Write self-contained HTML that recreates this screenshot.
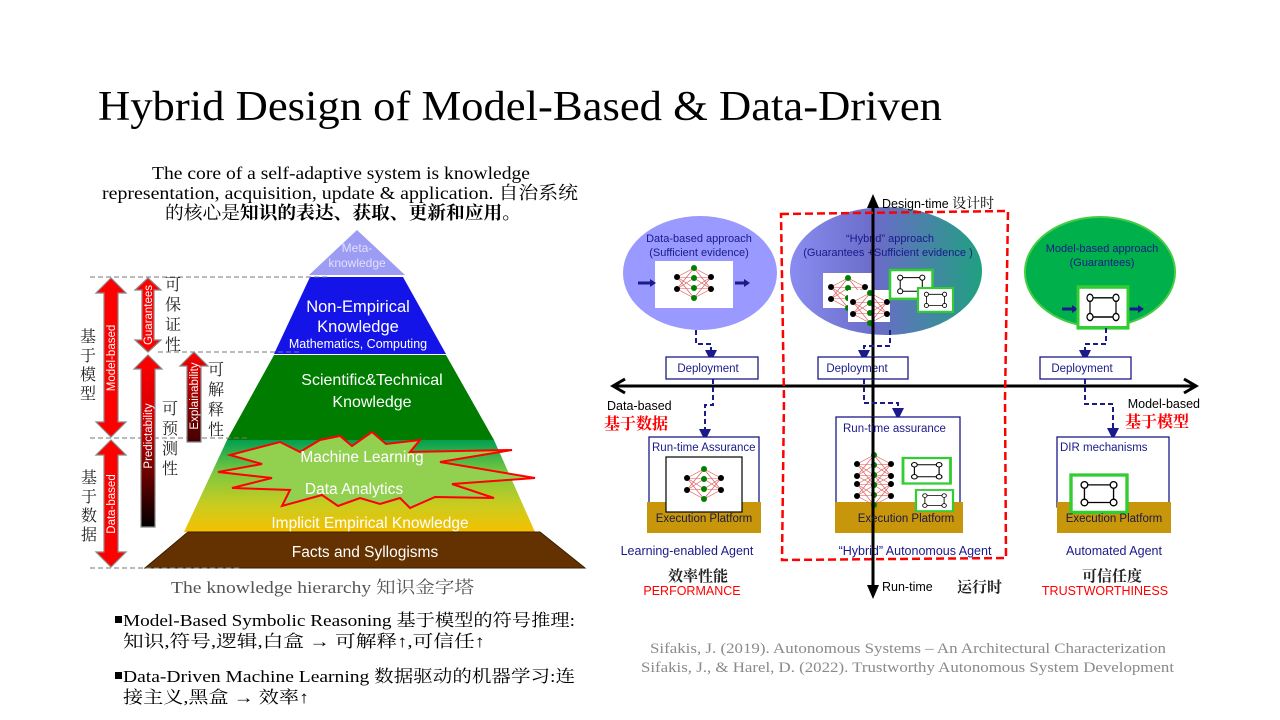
<!DOCTYPE html>
<html><head><meta charset="utf-8"><style>
html,body{margin:0;padding:0;background:#fff;}
body{width:1280px;height:720px;overflow:hidden;position:relative;}
svg{position:absolute;left:0;top:0;}
</style></head><body>
<svg width="1280" height="720" viewBox="0 0 1280 720" xmlns="http://www.w3.org/2000/svg">
<defs>
  <linearGradient id="gy" x1="0" y1="0" x2="0" y2="1">
    <stop offset="0" stop-color="#00a050"/><stop offset="0.35" stop-color="#7cc840"/><stop offset="0.7" stop-color="#c8cc20"/><stop offset="1" stop-color="#f5c000"/>
  </linearGradient>
  <linearGradient id="hyb" x1="0" y1="0" x2="1" y2="0">
    <stop offset="0" stop-color="#8a8cf0"/><stop offset="0.45" stop-color="#6a6cc8"/><stop offset="1" stop-color="#1fa080"/>
  </linearGradient>
  <linearGradient id="rb" x1="0" y1="0" x2="0" y2="1">
    <stop offset="0" stop-color="#ff0000"/><stop offset="0.4" stop-color="#d00000"/><stop offset="1" stop-color="#000"/>
  </linearGradient>
  <linearGradient id="rb2" x1="0" y1="0" x2="0" y2="1">
    <stop offset="0" stop-color="#ff0000"/><stop offset="1" stop-color="#400000"/>
  </linearGradient>
  <g id="nn">
    <g stroke="#e05050" stroke-width="0.6">
      <path d="M5 14L22 5M5 14L22 15M5 14L22 25M5 14L22 35M5 26L22 5M5 26L22 15M5 26L22 25M5 26L22 35M39 14L22 5M39 14L22 15M39 14L22 25M39 14L22 35M39 26L22 5M39 26L22 15M39 26L22 25M39 26L22 35"/>
    </g>
    <circle cx="5" cy="14" r="3" fill="#000"/><circle cx="5" cy="26" r="3" fill="#000"/>
    <circle cx="39" cy="14" r="3" fill="#000"/><circle cx="39" cy="26" r="3" fill="#000"/>
    <circle cx="22" cy="5" r="3" fill="#008000"/><circle cx="22" cy="15" r="3" fill="#008000"/><circle cx="22" cy="25" r="3" fill="#008000"/><circle cx="22" cy="35" r="3" fill="#008000"/>
  </g>
  <g id="sm">
    <rect x="0" y="0" width="50" height="34" fill="#fff" stroke="#33cc33" stroke-width="3"/>
    <g fill="none" stroke="#000" stroke-width="1.2">
      <circle cx="12" cy="9" r="3"/><circle cx="38" cy="9" r="3"/><circle cx="12" cy="25" r="3"/><circle cx="38" cy="25" r="3"/>
      <path d="M15 9H35M38 12V22M35 25H15M12 22V12"/>
    </g>
  </g>
  <marker id="ah" markerWidth="6" markerHeight="6" refX="3" refY="3" orient="auto"><path d="M0 0L6 3L0 6z" fill="#1a1a8a"/></marker>
</defs>

<!-- Title -->
<text x="98" y="120" font-family="Liberation Serif, serif" font-size="42" fill="#000" textLength="844" lengthAdjust="spacingAndGlyphs">Hybrid Design of Model-Based &amp; Data-Driven</text>

<!-- paragraph -->
<g font-family="Liberation Serif, 'Noto Serif CJK SC', serif" font-size="18" fill="#000">
  <text x="152" y="179" textLength="378" lengthAdjust="spacingAndGlyphs">The core of a self-adaptive system is knowledge</text>
  <text x="102" y="199" textLength="476" lengthAdjust="spacingAndGlyphs">representation, acquisition, update &amp; application. 自治系统</text>
  <text x="165" y="219" textLength="356" lengthAdjust="spacingAndGlyphs">的核心是<tspan font-weight="bold">知识的表达、获取、更新和应用。</tspan></text>
</g>

<!-- Pyramid -->
<polygon points="357,230 405,275 309,275" fill="#9c9cf4"/>
<text x="357" y="252" font-family="Liberation Sans, sans-serif" font-size="12" fill="#e0e0ff" text-anchor="middle">Meta-</text>
<text x="357" y="267" font-family="Liberation Sans, sans-serif" font-size="12" fill="#e0e0ff" text-anchor="middle">knowledge</text>
<polygon points="310,277 403,277 446,354 274,354" fill="#1414e8"/>
<polygon points="274,355 446,355 494,440 227,440" fill="#007c00"/>
<polygon points="227,440 494,440 535,532 184,532" fill="url(#gy)"/>
<polygon points="188,532 540,532 585,568 145,568" fill="#633200" stroke="#3a1d00" stroke-width="1"/>

<!-- starburst -->
<polygon points="280,442 300,452 320,440 340,436 352,446 372,432 386,444 420,440 410,452 512,450 440,462 535,478 452,484 494,498 435,497 410,508 400,498 380,504 360,498 338,506 322,495 282,506 290,490 232,488 272,478 218,472 262,464 230,455" fill="#92d050" stroke="#ff0000" stroke-width="2"/>

<g font-family="Liberation Sans, sans-serif" fill="#fff" text-anchor="middle">
  <text x="358" y="312" font-size="16.5">Non-Empirical</text>
  <text x="358" y="332" font-size="16.5">Knowledge</text>
  <text x="358" y="348" font-size="12.5">Mathematics, Computing</text>
  <text x="372" y="385" font-size="16">Scientific&amp;Technical</text>
  <text x="372" y="407" font-size="16">Knowledge</text>
  <text x="362" y="462" font-size="15.5">Machine Learning</text>
  <text x="354" y="494" font-size="15.5">Data Analytics</text>
  <text x="370" y="528" font-size="15.5">Implicit Empirical Knowledge</text>
  <text x="365" y="557" font-size="15.5">Facts and Syllogisms</text>
</g>

<!-- dashed guide lines -->
<g stroke="#777" stroke-width="1" stroke-dasharray="5,3">
  <line x1="90" y1="277" x2="330" y2="277"/>
  <line x1="158" y1="352" x2="300" y2="352"/>
  <line x1="90" y1="438" x2="250" y2="438"/>
  <line x1="90" y1="568" x2="240" y2="568"/>
</g>

<!-- arrows -->
<g stroke="#888" stroke-width="1.2">
  <polygon points="111,278 126,293 118,293 118,422 126,422 111,437 96,422 104,422 104,293 96,293" fill="#f00"/>
  <polygon points="111,440 126,455 118,455 118,552 126,552 111,567 96,552 104,552 104,455 96,455" fill="#f00"/>
  <polygon points="148,278 161,290 154,290 154,340 161,340 148,352 135,340 142,340 142,290 135,290" fill="#f00"/>
  <polygon points="148,355 162,369 155,369 155,527 141,527 141,369 134,369" fill="url(#rb)"/>
  <polygon points="194,352 208,366 201,366 201,442 187,442 187,366 180,366" fill="url(#rb2)"/>
</g>
<g font-family="Liberation Sans, sans-serif" font-size="11.5" fill="#fff" text-anchor="middle">
  <text transform="translate(115,358) rotate(-90)">Model-based</text>
  <text transform="translate(115,504) rotate(-90)">Data-based</text>
  <text transform="translate(152,315) rotate(-90)">Guarantees</text>
  <text transform="translate(152,436) rotate(-90)">Predictability</text>
  <text transform="translate(198,396) rotate(-90)">Explainability</text>
</g>
<g font-family="'Noto Serif CJK SC', serif" font-size="16" fill="#222" text-anchor="middle">
  <text x="88" y="342">基</text><text x="88" y="361">于</text><text x="88" y="380">模</text><text x="88" y="399">型</text>
  <text x="89" y="483">基</text><text x="89" y="502">于</text><text x="89" y="521">数</text><text x="89" y="540">据</text>
  <text x="173" y="290">可</text><text x="173" y="310">保</text><text x="173" y="330">证</text><text x="173" y="350">性</text>
  <text x="170" y="414">可</text><text x="170" y="434">预</text><text x="170" y="454">测</text><text x="170" y="474">性</text>
  <text x="216" y="375">可</text><text x="216" y="395">解</text><text x="216" y="415">释</text><text x="216" y="435">性</text>
</g>
<text x="171" y="593" font-family="Liberation Serif, 'Noto Serif CJK SC', serif" font-size="17" fill="#555" textLength="303" lengthAdjust="spacingAndGlyphs">The knowledge hierarchy 知识金字塔</text>

<!-- bullets -->
<g font-family="Liberation Serif, 'Noto Serif CJK SC', serif" font-size="17" fill="#000">
  <rect x="115" y="616" width="7" height="7" fill="#000"/>
  <text x="123" y="626" textLength="452" lengthAdjust="spacingAndGlyphs">Model-Based Symbolic Reasoning 基于模型的符号推理:</text>
  <text x="123" y="647" textLength="362" lengthAdjust="spacingAndGlyphs">知识,符号,逻辑,白盒 → 可解释↑,可信任↑</text>
  <rect x="115" y="672" width="7" height="7" fill="#000"/>
  <text x="123" y="682" textLength="452" lengthAdjust="spacingAndGlyphs">Data-Driven Machine Learning 数据驱动的机器学习:连</text>
  <text x="123" y="703" textLength="186" lengthAdjust="spacingAndGlyphs">接主义,黑盒 → 效率↑</text>
</g>

<!-- citations -->
<g font-family="Liberation Serif, serif" font-size="15" fill="#8a8a8a">
  <text x="650" y="653" textLength="516" lengthAdjust="spacingAndGlyphs">Sifakis, J. (2019). Autonomous Systems – An Architectural Characterization</text>
  <text x="641" y="672" textLength="533" lengthAdjust="spacingAndGlyphs">Sifakis, J., &amp; Harel, D. (2022). Trustworthy Autonomous System Development</text>
</g>

<!-- RIGHT DIAGRAM -->
<ellipse cx="700" cy="273" rx="77" ry="57" fill="#9999ff"/>
<ellipse cx="886" cy="271" rx="96" ry="64" fill="url(#hyb)"/>
<ellipse cx="1100" cy="272" rx="75" ry="55" fill="#00b04a" stroke="#44cc44" stroke-width="2"/>
<g font-family="Liberation Sans, sans-serif" font-size="11" fill="#1a1a8a" text-anchor="middle">
  <text x="699" y="242">Data-based approach</text>
  <text x="699" y="256">(Sufficient evidence)</text>
  <text x="890" y="242">“Hybrid” approach</text>
  <text x="888" y="256">(Guarantees +Sufficient evidence )</text>
  <text x="1102" y="252">Model-based approach</text>
  <text x="1102" y="266">(Guarantees)</text>
</g>
<rect x="655" y="261" width="78" height="47" fill="#fff"/>
<use href="#nn" x="672" y="263"/>
<path d="M638 283H652" stroke="#1a1a8a" stroke-width="3"/><polygon points="650,279 656,283 650,287" fill="#1a1a8a"/>
<path d="M735 283H746" stroke="#1a1a8a" stroke-width="3"/><polygon points="744,279 750,283 744,287" fill="#1a1a8a"/>
<rect x="823" y="273" width="50" height="35" fill="#fff"/>
<use href="#nn" x="826" y="273"/>
<rect x="848" y="290" width="42" height="32" fill="#fff"/>
<use href="#nn" x="848" y="288"/>
<g transform="translate(890,270) scale(0.85)"><use href="#sm"/></g>
<g transform="translate(918,288) scale(0.7)"><use href="#sm"/></g>
<path d="M1062 309H1074" stroke="#1a1a8a" stroke-width="3"/><polygon points="1072,305 1078,309 1072,313" fill="#1a1a8a"/>
<path d="M1128 309H1140" stroke="#1a1a8a" stroke-width="3"/><polygon points="1138,305 1144,309 1138,313" fill="#1a1a8a"/>
<g transform="translate(1078,287) scale(1.0,1.2)"><use href="#sm"/></g>

<!-- axes -->
<line x1="873" y1="200" x2="873" y2="592" stroke="#000" stroke-width="3"/>
<polygon points="873,194 867,208 879,208" fill="#000"/>
<polygon points="873,599 867,585 879,585" fill="#000"/>
<line x1="616" y1="386" x2="1193" y2="386" stroke="#000" stroke-width="3"/>
<path d="M625 379L613 386L625 393" fill="none" stroke="#000" stroke-width="3"/>
<path d="M1184 379L1196 386L1184 393" fill="none" stroke="#000" stroke-width="3"/>

<path d="M781 214L1008 211L1005 400L1006 558L782 560L784 400Z" fill="none" stroke="#ff0000" stroke-width="2.5" stroke-dasharray="8,4"/>

<g fill="none" stroke="#1a1a8a" stroke-width="2" stroke-dasharray="5,3">
  <path d="M696 330V344H711V356" marker-end="url(#ah)"/>
  <path d="M713 379V405H705V435" marker-end="url(#ah)"/>
  <path d="M890 330V346H864V356" marker-end="url(#ah)"/>
  <path d="M864 379V403H898V414" marker-end="url(#ah)"/>
  <path d="M1106 328V344H1085V356" marker-end="url(#ah)"/>
  <path d="M1085 379V404H1113V434" marker-end="url(#ah)"/>
</g>

<g fill="#fff" stroke="#1a1a8a" stroke-width="1.3">
  <rect x="666" y="357" width="92" height="22"/>
  <rect x="818" y="357" width="90" height="22"/>
  <rect x="1040" y="357" width="91" height="22"/>
</g>
<g font-family="Liberation Sans, sans-serif" font-size="11.5" fill="#1a1a8a" text-anchor="middle">
  <text x="708" y="372">Deployment</text>
  <text x="857" y="372">Deployment</text>
  <text x="1082" y="372">Deployment</text>
</g>
<line x1="873" y1="357" x2="873" y2="379" stroke="#000" stroke-width="3"/>

<g fill="#fff" stroke="#1a1a8a" stroke-width="1.3">
  <rect x="649" y="437" width="110" height="70"/>
  <rect x="836" y="417" width="124" height="90"/>
  <rect x="1057" y="437" width="112" height="70"/>
</g>
<g fill="#c8960a">
  <rect x="647" y="502" width="114" height="31"/>
  <rect x="835" y="502" width="128" height="31"/>
  <rect x="1057" y="502" width="114" height="31"/>
</g>
<line x1="873" y1="417" x2="873" y2="533" stroke="#000" stroke-width="3"/>
<rect x="666" y="457" width="76" height="55" fill="#fff" stroke="#000" stroke-width="1.2"/>
<use href="#nn" x="682" y="464"/>
<rect x="852" y="450" width="42" height="52" fill="#fff"/>
<use href="#nn" x="852" y="450"/>
<use href="#nn" x="852" y="470"/>
<line x1="873" y1="450" x2="873" y2="510" stroke="#000" stroke-width="3"/>
<g transform="translate(903,458) scale(0.95,0.75)"><use href="#sm"/></g>
<g transform="translate(916,490) scale(0.74,0.62)"><use href="#sm"/></g>
<g transform="translate(1071,475) scale(1.12,1.1)"><use href="#sm"/></g>

<g font-family="Liberation Sans, sans-serif" font-size="11.5" fill="#1a1a8a">
  <text x="652" y="451">Run-time Assurance</text>
  <text x="843" y="432">Run-time assurance</text>
  <text x="1060" y="451">DIR mechanisms</text>
</g>
<g font-family="Liberation Sans, sans-serif" font-size="11.5" fill="#1a1a40" text-anchor="middle">
  <text x="704" y="522">Execution Platform</text>
  <text x="906" y="522">Execution Platform</text>
  <text x="1114" y="522">Execution Platform</text>
</g>
<g font-family="Liberation Sans, sans-serif" font-size="12.5" fill="#1a1a8a" text-anchor="middle">
  <text x="687" y="555">Learning-enabled Agent</text>
  <text x="915" y="555">“Hybrid” Autonomous Agent</text>
  <text x="1114" y="555">Automated Agent</text>
</g>
<line x1="873" y1="540" x2="873" y2="560" stroke="#000" stroke-width="3"/>

<g font-family="Liberation Sans, 'Noto Sans CJK SC', sans-serif" font-size="12.5" fill="#000">
  <text x="882" y="208">Design-time <tspan font-family="'Noto Serif CJK SC', serif" font-size="14">设计时</tspan></text>
  <text x="607" y="410">Data-based</text>
  <text x="1200" y="408" text-anchor="end">Model-based</text>
  <text x="882" y="591">Run-time</text>
</g>
<g font-family="'Noto Serif CJK SC', serif" font-weight="bold">
  <text x="604" y="429" font-size="16" fill="#ff0000">基于数据</text>
  <text x="1125" y="427" font-size="16" fill="#ff0000">基于模型</text>
  <text x="957" y="592" font-size="15" fill="#222">运行时</text>
  <text x="698" y="581" font-size="15" fill="#222" text-anchor="middle">效率性能</text>
  <text x="1112" y="581" font-size="15" fill="#222" text-anchor="middle">可信任度</text>
</g>
<g font-family="Liberation Sans, sans-serif" font-size="12.5" fill="#ff0000" text-anchor="middle">
  <text x="692" y="595">PERFORMANCE</text>
  <text x="1105" y="595">TRUSTWORTHINESS</text>
</g>
</svg>
</body></html>
